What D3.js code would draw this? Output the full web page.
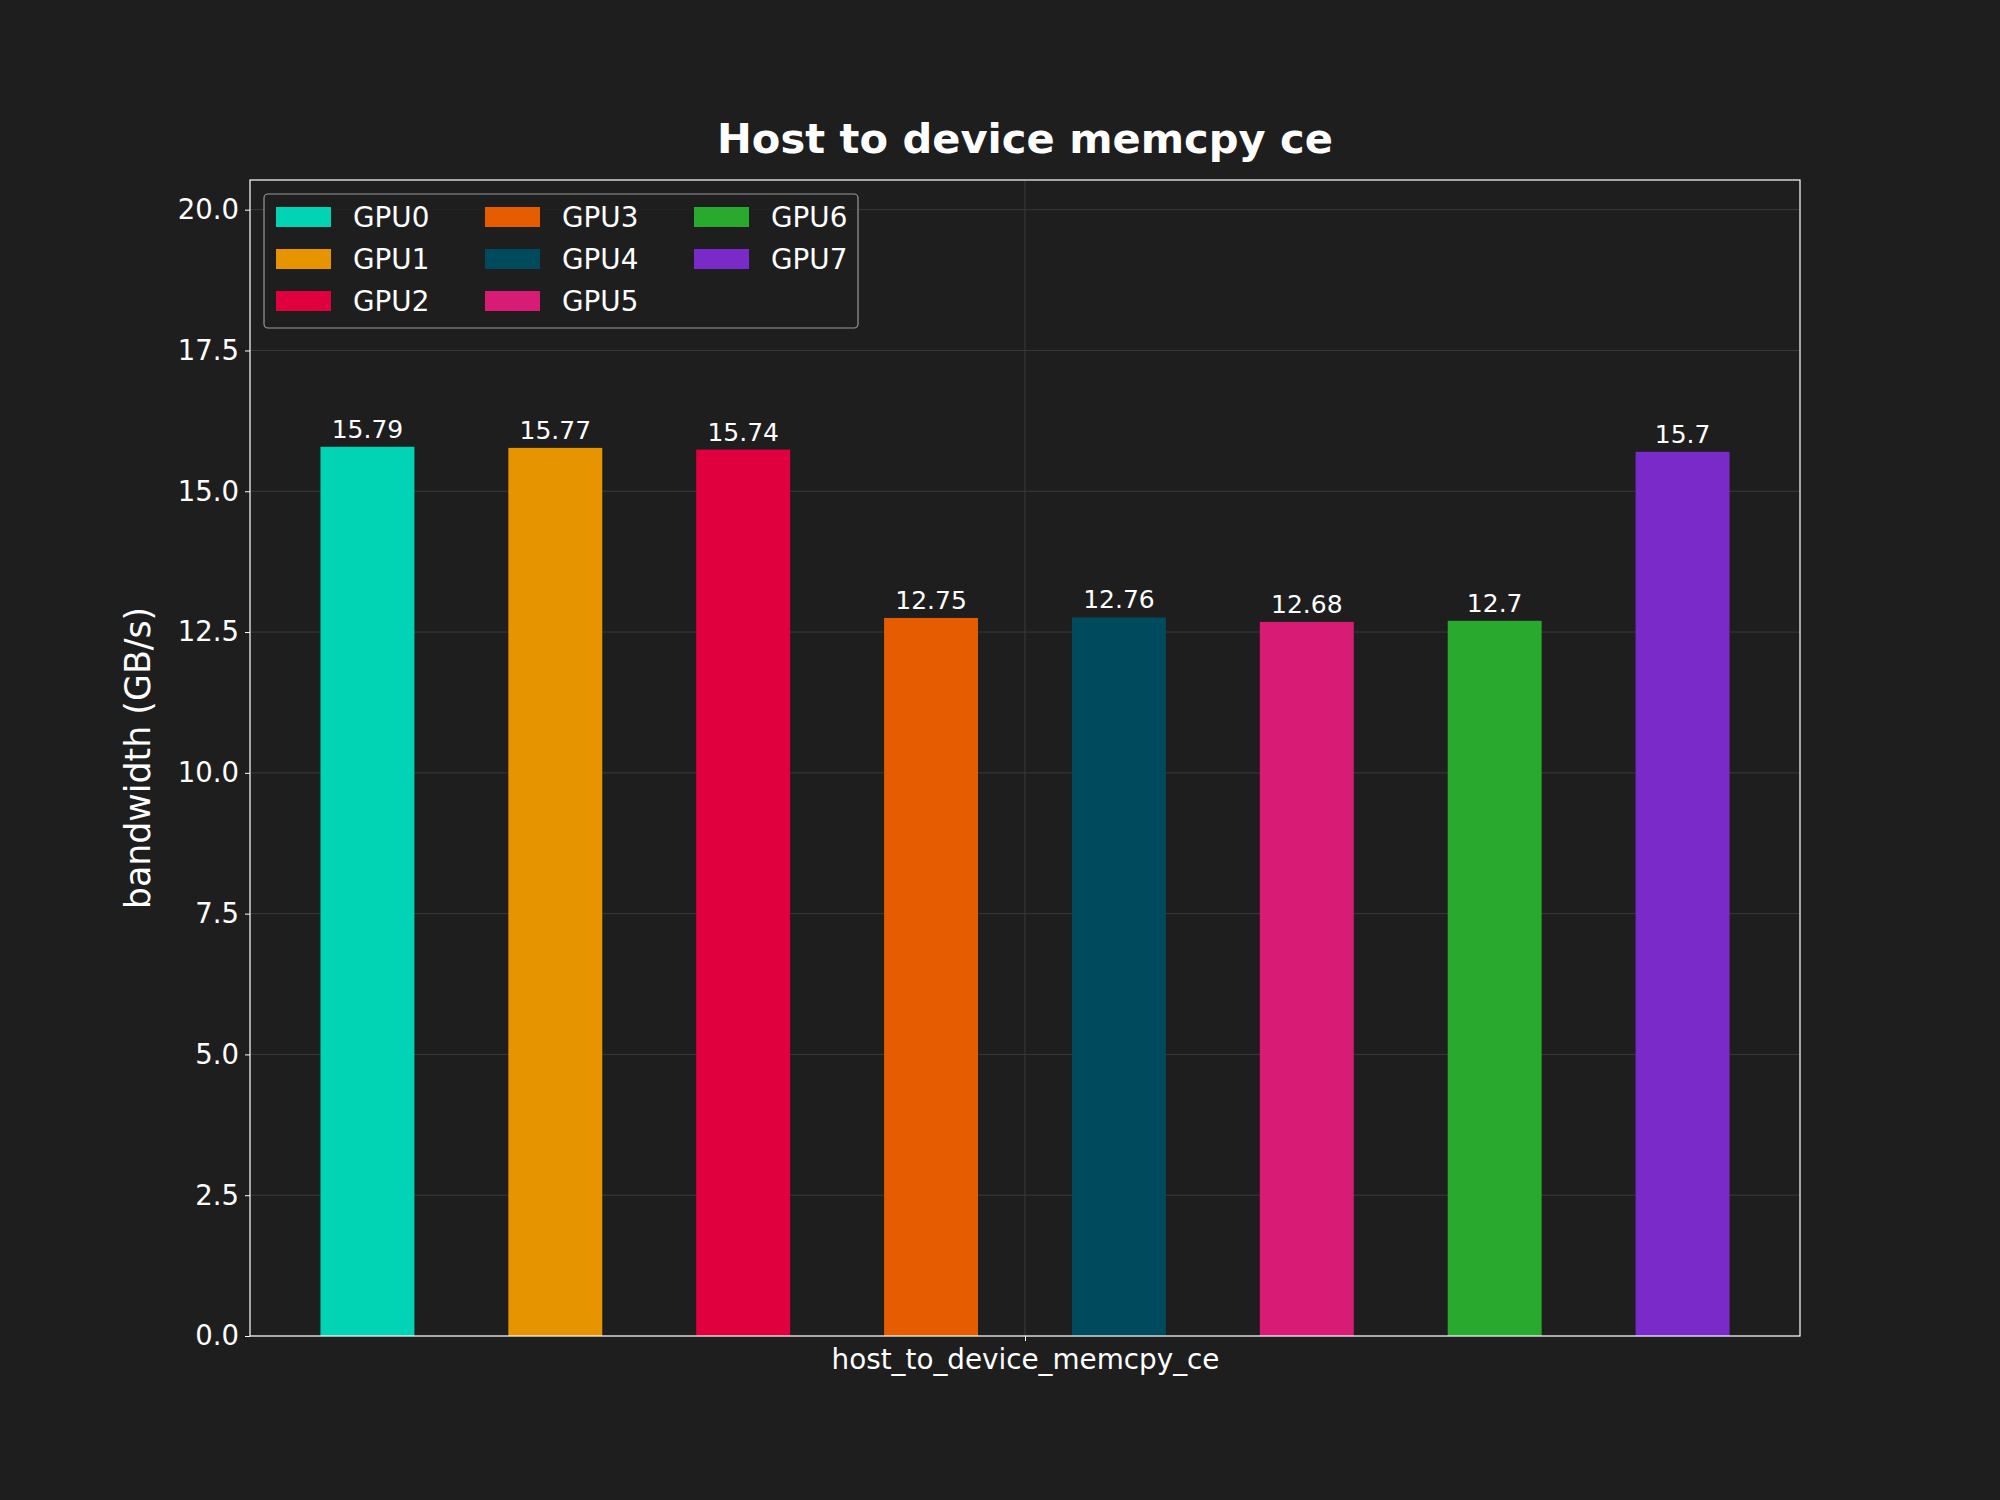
<!DOCTYPE html>
<html>
<head>
<meta charset="utf-8">
<script src="https://cdn.jsdelivr.net/npm/d3@7"></script>
<style>
  body { margin: 0; background: #1e1e1e; }
  text { font-family: "DejaVu Sans", sans-serif; fill: #ffffff; }
</style>
</head>
<body>
<div id="chart"></div>
<script>
var width = 2000;
var height = 1500;

// data
var gpus = ["GPU0", "GPU1", "GPU2", "GPU3", "GPU4", "GPU5", "GPU6", "GPU7"];
var bandwidth = [15.79, 15.77, 15.74, 12.75, 12.76, 12.68, 12.7, 15.7];
var colors = ["#00d4b5", "#e69500", "#e0003d", "#e65c00", "#004a5e", "#d81b74", "#29a92e", "#7a2ac9"];
var category = "host_to_device_memcpy_ce";
var yTicks = [0, 2.5, 5, 7.5, 10, 12.5, 15, 17.5, 20];

var plotLeft = 250, plotRight = 1800, plotTop = 180, plotBottom = 1336;
var barWidth = 0.1, step = 0.2;

var svg = d3.select("#chart").append("svg")
    .attr("width", width)
    .attr("height", height);

svg.append("rect").attr("width", width).attr("height", height).attr("fill", "#1e1e1e");

var x = d3.scaleLinear().domain([-0.825, 0.825]).range([plotLeft, plotRight]);
var y = d3.scaleLinear().domain([0, d3.max(bandwidth) * 1.3]).range([plotBottom, plotTop]);

// grid
svg.append("g")
    .selectAll("line")
    .data(yTicks)
    .enter()
    .append("line")
    .attr("x1", plotLeft).attr("x2", plotRight)
    .attr("y1", function(d) { return y(d); })
    .attr("y2", function(d) { return y(d); })
    .attr("stroke", "#3a3a3a")
    .attr("stroke-width", 1);

svg.append("line")
    .attr("x1", x(0)).attr("x2", x(0))
    .attr("y1", plotTop).attr("y2", plotBottom)
    .attr("stroke", "#3a3a3a")
    .attr("stroke-width", 1);

// bars
svg.append("g")
    .selectAll("rect")
    .data(bandwidth)
    .enter()
    .append("rect")
    .attr("x", function(d, i) { return x((i - 3.5) * step - barWidth / 2); })
    .attr("width", x(barWidth) - x(0))
    .attr("y", function(d) { return y(d); })
    .attr("height", function(d) { return plotBottom - y(d); })
    .attr("fill", function(d, i) { return colors[i]; });

// bar labels
svg.append("g")
    .selectAll("text")
    .data(bandwidth)
    .enter()
    .append("text")
    .attr("x", function(d, i) { return x((i - 3.5) * step); })
    .attr("y", function(d) { return y(d) - 9; })
    .attr("text-anchor", "middle")
    .style("font-size", "25px")
    .text(function(d) { return d; });

// axes
var yAxis = d3.axisLeft(y)
    .tickValues(yTicks)
    .tickFormat(d3.format(".1f"))
    .tickSize(5)
    .tickPadding(6);

var gy = svg.append("g")
    .attr("transform", "translate(" + plotLeft + ",0)")
    .call(yAxis);
gy.select(".domain").remove();
gy.selectAll("line").attr("stroke", "#ffffff");
gy.selectAll("text").style("font-size", "27.5px").attr("fill", "#ffffff");

var xAxis = d3.axisBottom(x)
    .tickValues([0])
    .tickFormat(function() { return category; })
    .tickSize(5)
    .tickPadding(8);

var gx = svg.append("g")
    .attr("transform", "translate(0," + plotBottom + ")")
    .call(xAxis);
gx.select(".domain").remove();
gx.selectAll("line").attr("stroke", "#ffffff");
gx.selectAll("text").style("font-size", "27.8px").attr("fill", "#ffffff");

// frame
svg.append("rect")
    .attr("x", plotLeft).attr("y", plotTop)
    .attr("width", plotRight - plotLeft).attr("height", plotBottom - plotTop)
    .attr("fill", "none")
    .attr("stroke", "#ffffff")
    .attr("stroke-width", 1.2);

// title
svg.append("text")
    .attr("x", (plotLeft + plotRight) / 2)
    .attr("y", 153)
    .attr("text-anchor", "middle")
    .style("font-size", "41.6px")
    .style("font-weight", "bold")
    .text("Host to device memcpy ce");

// y label
svg.append("text")
    .attr("transform", "translate(150," + (plotTop + plotBottom) / 2 + ") rotate(-90)")
    .attr("text-anchor", "middle")
    .style("font-size", "34.8px")
    .text("bandwidth (GB/s)");

// legend
var legend = svg.append("g");
legend.append("rect")
    .attr("x", 264).attr("y", 194)
    .attr("width", 594).attr("height", 134)
    .attr("rx", 4)
    .attr("fill", "#1e1e1e")
    .attr("fill-opacity", 0.8)
    .attr("stroke", "#999999")
    .attr("stroke-width", 1.2);

var colX = [276, 485, 694];
var rowY = [217, 259, 301];
var items = legend.selectAll("g.item")
    .data(gpus)
    .enter()
    .append("g")
    .attr("class", "item")
    .attr("transform", function(d, i) {
        return "translate(" + colX[Math.floor(i / 3)] + "," + rowY[i % 3] + ")";
    });
items.append("rect")
    .attr("x", 0).attr("y", -10)
    .attr("width", 55).attr("height", 20)
    .attr("fill", function(d, i) { return colors[i]; });
items.append("text")
    .attr("x", 77).attr("y", 10)
    .style("font-size", "27.8px")
    .text(function(d) { return d; });
</script>
</body>
</html>
